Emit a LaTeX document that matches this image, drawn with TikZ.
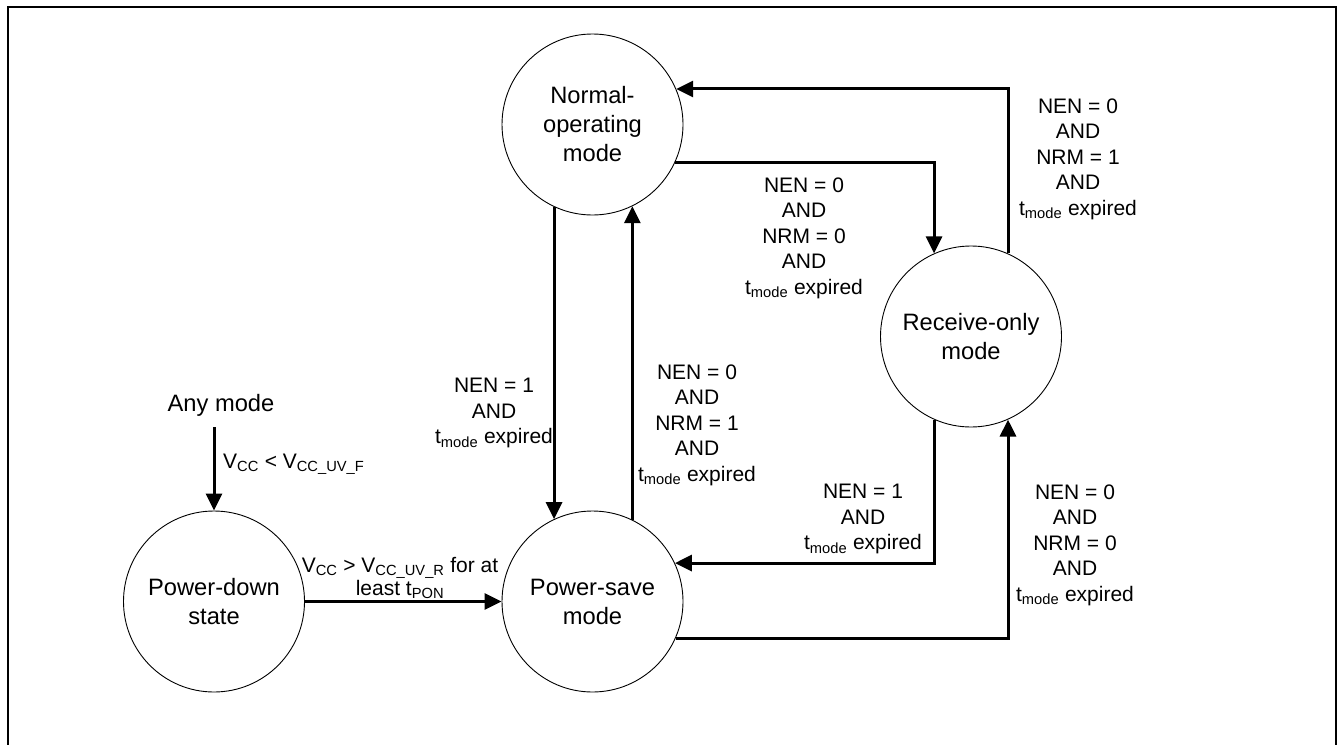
\documentclass[tikz,border=0pt]{standalone}
\usepackage{fontspec}
\setmainfont{Liberation Sans}
\usetikzlibrary{arrows.meta}
\begin{document}
\begin{tikzpicture}[x=1pt,y=-1pt,
  state/.style={circle,draw,line width=0.9pt,minimum size=181pt,inner sep=0pt,align=center,font=\fontsize{23.7}{29}\selectfont},
  lbl/.style={align=center,inner sep=0pt,font=\fontsize{21}{25.5}\selectfont},
  lbltight/.style={align=center,inner sep=0pt,font=\fontsize{21}{20}\selectfont},
  conn/.style={line width=3pt,-{Triangle[length=17pt,width=16pt]}},
  frame/.style={line width=2pt}]
\useasboundingbox (0,0) rectangle (1338,744);
\draw[frame] (8,746) -- (8,7) -- (1335.5,7) -- (1335.5,746);

\node[state] (normal) at (592.5,124.5) {Normal-\\operating\\mode};
\node[state] (receive) at (971,336.5) {Receive-only\\mode};
\node[state] (pdown) at (214,601.5) {Power-down\\state};
\node[state] (psave) at (592.5,601.5) {Power-save\\mode};

\node[inner sep=0pt,font=\fontsize{23.7}{29}\selectfont] (any) at (221,405) {Any mode};
\coordinate (anytail) at (214,427);

\draw[conn] (anytail) -- (pdown.north);
\draw[conn] (pdown.east) -- (psave.west);
\draw[conn] (normal.-115.9) -- (psave.115.9);
\draw[conn] (psave.64.1) -- (normal.-64.1);
\draw[conn] (normal.-25.2) -| (receive.114.7);
\draw[conn] (receive.66) |- (normal.23.8);
\draw[conn] (receive.-114.7) |- (psave.25.2);
\draw[conn] (psave.-24.5) -| (receive.-66);

\node[lbl,anchor=west] (l1) at (223,464) {V\textsubscript{CC} < V\textsubscript{CC\_UV\_F}};
\node[lbltight] (l2) at (400,578) {V\textsubscript{CC} > V\textsubscript{CC\_UV\_R} for at\\least t\textsubscript{PON}};
\node[lbl] (l3) at (494,413) {NEN = 1\\AND\\t\textsubscript{mode} expired};
\node[lbl] (l4) at (697,425) {NEN = 0\\AND\\NRM = 1\\AND\\t\textsubscript{mode} expired};
\node[lbl] (l5) at (804,238) {NEN = 0\\AND\\NRM = 0\\AND\\t\textsubscript{mode} expired};
\node[lbl] (l6) at (1078,159) {NEN = 0\\AND\\NRM = 1\\AND\\t\textsubscript{mode} expired};
\node[lbl] (l7) at (863,519) {NEN = 1\\AND\\t\textsubscript{mode} expired};
\node[lbl] (l8) at (1075,545) {NEN = 0\\AND\\NRM = 0\\AND\\t\textsubscript{mode} expired};
\end{tikzpicture}
\end{document}
